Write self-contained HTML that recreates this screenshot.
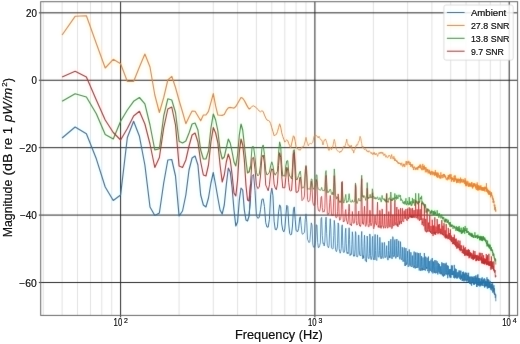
<!DOCTYPE html>
<html><head><meta charset="utf-8"><style>
html,body{margin:0;padding:0;background:#fff;width:520px;height:344px;overflow:hidden}
svg{display:block}
text{font-family:"Liberation Sans",sans-serif;fill:#111;stroke:#111;stroke-width:0.2px}
.txt{filter:grayscale(1)}
.tk{font-size:10.1px}
.sup{font-size:6.9px}
.lab{font-size:11.9px}
.sup2{font-size:8px}
.lg{font-size:9.8px}
</style></head><body>
<svg width="520" height="344" viewBox="0 0 520 344"><rect x="0" y="0" width="520" height="344" fill="#fff"/><defs><filter id="jp" color-interpolation-filters="sRGB" x="-30" y="-30" width="580" height="404" filterUnits="userSpaceOnUse"><feConvolveMatrix in="SourceGraphic" order="3" kernelMatrix="0.0064 0.0672 0.0064 0.0672 0.7056 0.0672 0.0064 0.0672 0.0064" divisor="1" edgeMode="duplicate" preserveAlpha="true" result="S"/><feColorMatrix in="S" type="matrix" values="0.299 0.587 0.114 0 0 0.299 0.587 0.114 0 0 0.299 0.587 0.114 0 0 0 0 0 1 0" result="Y"/><feGaussianBlur in="SourceGraphic" stdDeviation="2.0" result="B"/><feColorMatrix in="B" type="matrix" values="0.3505 -0.2935 -0.0570 0 0.5 -0.1495 0.2065 -0.0570 0 0.5 -0.1495 -0.2935 0.4430 0 0.5 0 0 0 1 0" result="C"/><feComposite in="Y" in2="C" operator="arithmetic" k1="0" k2="1" k3="2" k4="-1"/></filter></defs><g filter="url(#jp)"><rect x="-30" y="-30" width="580" height="404" fill="#fff"/><line x1="43.28" y1="1.7" x2="43.28" y2="315.4" stroke="#d6d6d6" stroke-width="0.7"/><line x1="62.11" y1="1.7" x2="62.11" y2="315.4" stroke="#d6d6d6" stroke-width="0.7"/><line x1="77.49" y1="1.7" x2="77.49" y2="315.4" stroke="#d6d6d6" stroke-width="0.7"/><line x1="90.50" y1="1.7" x2="90.50" y2="315.4" stroke="#d6d6d6" stroke-width="0.7"/><line x1="101.77" y1="1.7" x2="101.77" y2="315.4" stroke="#d6d6d6" stroke-width="0.7"/><line x1="111.71" y1="1.7" x2="111.71" y2="315.4" stroke="#d6d6d6" stroke-width="0.7"/><line x1="179.09" y1="1.7" x2="179.09" y2="315.4" stroke="#d6d6d6" stroke-width="0.7"/><line x1="213.30" y1="1.7" x2="213.30" y2="315.4" stroke="#d6d6d6" stroke-width="0.7"/><line x1="237.58" y1="1.7" x2="237.58" y2="315.4" stroke="#d6d6d6" stroke-width="0.7"/><line x1="256.41" y1="1.7" x2="256.41" y2="315.4" stroke="#d6d6d6" stroke-width="0.7"/><line x1="271.79" y1="1.7" x2="271.79" y2="315.4" stroke="#d6d6d6" stroke-width="0.7"/><line x1="284.80" y1="1.7" x2="284.80" y2="315.4" stroke="#d6d6d6" stroke-width="0.7"/><line x1="296.07" y1="1.7" x2="296.07" y2="315.4" stroke="#d6d6d6" stroke-width="0.7"/><line x1="306.01" y1="1.7" x2="306.01" y2="315.4" stroke="#d6d6d6" stroke-width="0.7"/><line x1="373.39" y1="1.7" x2="373.39" y2="315.4" stroke="#d6d6d6" stroke-width="0.7"/><line x1="407.60" y1="1.7" x2="407.60" y2="315.4" stroke="#d6d6d6" stroke-width="0.7"/><line x1="431.88" y1="1.7" x2="431.88" y2="315.4" stroke="#d6d6d6" stroke-width="0.7"/><line x1="450.71" y1="1.7" x2="450.71" y2="315.4" stroke="#d6d6d6" stroke-width="0.7"/><line x1="466.09" y1="1.7" x2="466.09" y2="315.4" stroke="#d6d6d6" stroke-width="0.7"/><line x1="479.10" y1="1.7" x2="479.10" y2="315.4" stroke="#d6d6d6" stroke-width="0.7"/><line x1="490.37" y1="1.7" x2="490.37" y2="315.4" stroke="#d6d6d6" stroke-width="0.7"/><line x1="500.31" y1="1.7" x2="500.31" y2="315.4" stroke="#d6d6d6" stroke-width="0.7"/><line x1="120.60" y1="1.7" x2="120.60" y2="317.4" stroke="#2a2a2a" stroke-width="1"/><line x1="314.90" y1="1.7" x2="314.90" y2="317.4" stroke="#2a2a2a" stroke-width="1"/><line x1="509.20" y1="1.7" x2="509.20" y2="317.4" stroke="#2a2a2a" stroke-width="1"/><line x1="38.900000000000006" y1="12.83" x2="517.6" y2="12.83" stroke="#2a2a2a" stroke-width="1"/><line x1="38.900000000000006" y1="80.25" x2="517.6" y2="80.25" stroke="#2a2a2a" stroke-width="1"/><line x1="38.900000000000006" y1="147.67" x2="517.6" y2="147.67" stroke="#2a2a2a" stroke-width="1"/><line x1="38.900000000000006" y1="215.09" x2="517.6" y2="215.09" stroke="#2a2a2a" stroke-width="1"/><line x1="38.900000000000006" y1="282.51" x2="517.6" y2="282.51" stroke="#2a2a2a" stroke-width="1"/><g clip-path="url(#clip)"><polyline fill="none" stroke="#1f77b4" stroke-width="1.15" stroke-linejoin="round" points="62.11,138.00 75.12,127.00 86.39,133.80 96.32,158.80 105.22,187.00 113.26,200.50 120.60,195.00 127.35,137.50 133.61,121.30 139.43,136.30 144.88,165.00 149.99,207.00 154.81,215.50 159.38,213.00 163.71,183.00 167.82,160.00 171.75,159.50 175.50,176.00 179.09,216.00 182.53,211.00 185.84,195.00 189.03,170.00 192.10,158.00 195.06,156.00 197.92,165.00 200.69,195.00 203.37,205.00 205.96,207.00 208.48,198.00 210.93,183.00 213.30,172.50 215.62,185.00 217.87,198.00 220.06,210.00 222.20,214.00 224.28,205.00 226.31,185.00 228.30,168.00 230.24,172.00 232.13,188.00 233.99,210.00 235.80,226.00 237.58,222.00 239.32,200.00 241.02,188.00 242.70,190.00 244.33,210.00 245.94,220.00 247.52,221.00 249.07,216.03 250.59,196.11"/><polyline fill="none" stroke="#1f77b4" stroke-width="1.0" stroke-linejoin="round" points="249.07,216.03 250.59,196.11 252.08,176.55 253.55,174.47 254.99,190.41 256.41,215.55 257.80,218.28 259.18,217.53 260.53,209.79 261.86,199.43 263.16,198.83 264.45,206.45 265.72,222.74 266.97,227.05 268.20,227.15 269.42,219.39 270.61,194.84 271.79,188.17 272.96,195.78 274.11,221.20 275.24,229.50 276.36,229.84 277.46,226.86 278.55,211.89 279.62,204.84 280.69,206.80 281.73,224.01 282.77,230.06 283.79,231.91 284.80,228.98 285.80,216.25 286.79,205.31 287.76,206.37 288.73,223.96 289.68,233.48 290.62,234.90 291.56,234.37 292.48,226.02 293.39,209.75 294.29,206.92 295.19,219.25 296.07,230.17 296.94,231.55 297.81,231.44 298.67,228.25 299.52,219.80 300.35,216.82"/><polyline fill="none" stroke="#1f77b4" stroke-width="0.8" stroke-linejoin="round" points="299.52,219.80 300.35,216.82 301.19,225.18 302.01,233.73 302.82,234.27 303.63,233.02 304.43,232.52 305.22,219.67 306.01,213.89 306.79,222.25 307.56,239.42 308.32,240.84 309.08,242.64 309.83,241.50 310.57,231.96 311.31,222.86 312.04,225.28 312.76,244.10 313.48,247.14 314.19,247.31 314.90,246.64 315.60,240.87 316.29,224.80 316.98,225.10 317.67,242.44 318.34,247.63 319.02,247.37 319.68,245.47 320.35,242.94 321.00,218.86 321.65,217.37 322.30,235.31 322.94,243.70 323.58,243.10 324.21,246.03 324.84,241.94 325.46,224.23 326.08,217.09 326.69,233.65 327.30,245.43 327.91,246.69 328.51,247.79 329.10,245.26 329.70,229.84 330.28,218.77 330.87,228.92 331.45,247.84 332.02,248.63 332.60,248.96 333.17,248.37 333.73,235.60 334.29,220.36 334.85,226.18 335.40,247.99 335.95,250.96 336.50,251.71 337.04,249.74 337.58,243.26 338.11,222.93 338.65,224.69 339.18,248.51 339.70,251.58 340.22,253.20 340.74,251.37 341.26,248.49 341.77,227.13 342.28,224.84 342.79,245.38 343.29,252.06 343.79,252.70 344.29,252.18 344.79,249.96 345.28,233.37 345.77,228.24 346.25,243.51 346.74,252.79 347.22,253.61 347.70,252.27 348.17,253.71 348.64,237.95 349.11,227.78 349.58,239.44 350.05,255.66 350.51,254.03 350.97,254.37 351.43,254.54 351.88,244.40 352.33,231.77 352.78,236.34 353.23,254.03 353.68,256.32 354.12,255.25 354.56,256.18 355.00,249.23 355.43,231.59 355.87,232.97 356.30,255.36 356.73,256.60 357.16,257.05 357.58,256.83 358.01,254.16 358.43,235.27 358.84,234.95 359.26,250.10 359.68,255.28 360.09,255.73 360.50,255.48 360.91,256.05 361.31,238.61 361.72,231.44 362.12,246.57 362.52,257.49 362.92,258.97 363.32,255.60 363.71,257.97 364.11,243.33 364.50,235.14 364.89,244.70 365.28,260.47 365.66,259.83 366.05,260.25 366.43,262.07 366.81,252.15 367.19,236.01 367.57,241.10 367.94,256.33 368.32,258.40 368.69,258.69 369.06,258.64 369.43,253.36 369.80,233.95 370.16,236.70 370.53,255.79 370.89,259.23 371.25,259.69 371.61,258.09 371.97,255.46 372.33,238.49 372.68,236.31 373.04,254.04 373.39,259.40 373.74,258.63 374.09,259.94 374.44,258.54 374.78,241.09 375.13,234.39 375.47,250.41 375.82,259.60 376.16,260.22 376.50,259.97 376.83,260.38 377.17,246.91 377.51,234.85 377.84,245.72 378.17,256.29 378.51,257.05 378.84,257.31 379.17,255.85 379.49,250.45 379.82,237.34 380.14,242.80 380.47,257.83 380.79,258.49 381.11,258.01 381.43,258.57 381.75,255.21 382.07,242.50 382.39,242.88 382.70,257.25 383.02,258.48 383.33,258.25 383.64,258.02 383.95,257.52 384.26,242.37 384.57,242.56 384.88,254.67 385.18,257.46 385.49,257.55 385.79,256.72 386.10,256.74 386.40,249.07 386.70,245.61 387.00,254.79 387.30,258.01 387.59,259.67 387.89,260.18 388.19,259.96 388.48,250.59 388.78,241.03 389.07,250.52 389.36,257.64 389.65,255.82 389.94,258.14 390.23,256.63 390.51,251.03 390.80,239.22 391.09,245.83 391.37,256.85 391.66,257.73 391.94,258.91 392.22,258.78 392.50,254.06 392.78,236.66 393.06,237.74 393.34,254.72 393.61,256.88 393.89,256.86 394.17,256.63 394.44,256.28 394.71,240.56 394.99,239.48 395.26,255.38 395.53,258.07 395.80,258.46 396.07,257.92 396.34,257.06 396.60,245.43 396.87,239.02 397.14,250.24 397.40,256.93 397.67,256.43 397.93,256.72 398.19,255.07 398.45,248.75 398.71,240.76 398.97,249.46 399.23,256.72 399.49,258.31 399.75,259.30 400.01,258.88 400.26,253.29 400.52,241.65 400.77,247.78 401.03,257.02 401.28,259.37 401.53,259.90 401.78,260.02 402.03,259.04 402.28,247.22 402.53,248.21 402.78,260.58 403.03,261.68 403.28,260.61 403.52,261.01 403.77,261.13 404.01,250.44 404.26,247.43 404.50,262.53 404.74,264.94 404.99,265.86 405.23,264.76 405.47,265.78 405.71,252.83 405.95,248.10 406.19,259.80 406.42,264.72 406.66,264.94 406.90,262.89 407.13,263.34 407.37,258.72 407.60,251.11 407.84,258.31 408.07,266.84 408.30,266.43 408.54,266.43 408.77,265.65 409.00,262.66 409.23,249.41 409.46,255.97 409.69,265.37 409.92,265.58 410.14,266.42 410.37,265.70 410.60,265.10 410.82,252.18 411.05,252.85 411.27,265.71 411.50,265.95 411.72,266.96 411.94,265.72 412.17,265.37 412.39,256.12 412.61,255.54 412.83,266.61 413.05,266.58 413.27,266.70 413.49,267.76 413.71,266.28 413.93,255.64 414.14,251.56 414.36,264.16 414.58,267.36 414.79,266.71 415.01,266.88 415.22,268.53 415.43,260.41 415.65,252.42 415.86,260.87 416.07,267.92 416.28,267.18 416.50,267.85 416.71,266.73 416.92,263.58 417.13,252.59 417.33,259.11 417.54,267.78 417.75,267.36 417.96,267.67 418.17,267.77 418.37,266.90 418.58,253.13 418.78,255.20 418.99,267.59 419.19,270.49 419.40,269.23 419.60,268.37 419.80,268.40 420.01,256.42 420.21,252.90 420.41,267.65 420.61,270.92 420.81,270.35 421.01,270.49 421.21,269.40 421.41,261.26 421.61,256.06 421.81,266.39 422.01,270.33 422.20,268.17 422.40,270.30 422.60,269.61 422.79,264.33 422.99,257.49 423.18,263.72 423.38,268.44 423.57,270.11 423.77,269.22 423.96,269.55 424.15,265.11 424.35,253.03 424.54,256.68 424.73,269.99 424.92,269.37 425.11,270.06 425.30,270.76 425.49,267.86 425.68,256.59 425.87,258.50 426.06,267.25 426.25,268.25 426.43,268.71 426.62,267.05 426.81,268.47 426.99,257.61 427.18,257.93 427.37,269.57 427.55,271.02 427.74,271.21 427.92,270.84 428.11,270.64 428.29,260.07 428.47,256.54 428.66,269.22 428.84,273.16 429.02,272.63 429.20,272.14 429.38,271.02 429.56,267.97 429.74,261.01 429.92,266.31 430.10,270.50 430.28,270.82 430.46,270.40 430.64,270.68 430.82,267.11 431.00,259.58 431.17,265.61 431.35,271.54 431.53,271.52 431.70,272.14 431.88,272.28 432.06,269.21 432.23,258.01 432.41,260.53 432.58,271.87 432.75,272.32 432.93,273.47 433.10,271.68 433.28,271.82 433.45,261.49 433.62,261.79 433.79,269.56 433.96,272.01 434.14,272.12 434.31,273.07 434.48,272.92 434.65,266.18 434.82,260.12 434.99,270.56 435.16,272.66 435.32,272.37 435.49,273.33 435.66,272.14 435.83,265.70 436.00,260.35 436.16,265.58 436.33,271.31 436.50,272.15 436.66,272.10 436.83,273.12 437.00,269.30 437.16,261.25 437.33,265.73 437.49,273.30 437.66,273.18 437.82,274.50 437.98,273.63 438.15,271.16 438.31,262.92 438.47,263.23 438.63,271.61 438.80,271.80 438.96,272.22 439.12,271.75 439.28,272.38 439.44,264.97 439.60,264.15 439.76,273.24 439.92,272.98 440.08,274.01 440.24,273.94 440.40,274.22 440.56,266.90 440.72,266.27 440.88,271.85 441.03,273.12 441.19,272.73 441.35,273.87 441.51,274.00 441.66,268.13 441.82,262.24 441.98,268.57 442.13,275.20 442.29,274.21 442.44,274.75 442.60,275.57 442.75,274.09 442.91,263.19 443.06,267.62 443.21,275.31 443.37,276.73 443.52,275.18 443.67,275.71 443.83,274.63 443.98,263.20 444.13,264.58 444.28,275.14 444.43,274.33 444.59,274.85 444.74,275.68 444.89,275.69 445.04,266.30 445.19,263.69 445.34,272.29 445.49,274.32 445.64,274.12 445.79,273.62 445.94,272.87 446.08,267.14 446.23,262.71 446.38,269.88 446.53,272.79 446.68,274.59 446.82,273.61 446.97,274.34 447.12,268.99 447.27,265.21 447.41,270.42 447.56,276.07 447.70,278.21 447.85,276.83 447.99,275.81 448.14,273.43 448.28,265.82 448.43,269.52 448.57,274.18 448.72,273.26 448.86,274.43 449.01,274.67 449.15,273.94 449.29,268.98 449.43,269.15 449.58,276.25 449.72,275.05 449.86,276.62 450.00,277.60 450.15,276.25 450.29,269.78 450.43,268.94 450.57,277.49 450.71,276.30 450.85,276.95 450.99,277.41 451.13,277.52 451.27,268.75 451.41,265.43 451.55,272.14 451.69,274.92 451.83,274.72 451.97,273.91 452.10,274.79 452.24,271.69 452.38,265.57 452.52,270.68 452.66,275.13 452.79,273.76 452.93,274.76 453.07,273.76 453.20,274.08 453.34,270.82 453.48,273.32 453.61,276.98 453.75,277.83 453.88,277.33 454.02,277.32 454.15,277.13 454.29,264.92 454.42,268.11 454.56,276.78 454.69,278.40 454.83,277.43 454.96,276.74 455.09,277.14 455.23,270.14 455.36,268.58 455.49,276.59 455.63,276.82 455.76,275.53 455.89,277.95 456.02,277.71 456.16,271.91 456.29,269.17 456.42,276.39 456.55,277.40 456.68,277.20 456.81,277.61 456.94,278.71 457.07,273.82 457.20,272.45 457.33,274.06 457.46,276.22 457.59,278.12 457.72,277.03 457.85,276.07 457.98,275.29 458.11,271.83 458.24,273.89 458.37,276.31 458.50,277.03 458.62,277.27 458.75,276.19 458.88,276.22 459.01,270.25 459.14,270.84 459.26,277.65 459.39,278.43 459.52,278.40 459.64,277.92 459.77,277.72 459.90,272.46 460.02,270.84 460.15,277.74 460.27,278.85 460.40,278.36 460.52,279.70 460.65,277.16 460.77,273.87 460.90,270.67 461.02,277.33 461.15,278.89 461.27,275.97 461.40,276.76 461.52,278.06 461.64,276.54 461.77,274.54 461.89,277.20 462.01,280.35 462.14,280.52 462.26,279.93 462.38,280.81 462.50,276.01 462.63,271.98 462.75,273.37 462.87,280.42 462.99,279.55 463.11,279.03 463.23,280.04 463.36,278.13 463.48,271.65 463.60,272.09 463.72,280.16 463.84,280.91 463.96,281.33 464.08,280.40 464.20,281.07 464.32,274.52 464.44,273.60 464.56,279.19 464.68,280.27 464.80,279.15 464.91,279.22 465.03,279.23 465.15,275.25 465.27,272.38 465.39,279.10 465.51,279.73 465.62,280.42 465.74,279.39 465.86,280.33 465.98,277.32 466.09,272.99 466.21,278.60 466.33,280.29 466.45,281.43 466.56,280.77 466.68,279.47 466.80,277.75 466.91,272.73 467.03,275.08 467.14,280.37 467.26,280.18 467.37,278.97 467.49,280.23 467.60,277.95 467.72,274.96 467.83,274.95 467.95,280.93 468.06,281.61 468.18,282.00 468.29,280.64 468.41,280.09 468.52,274.45 468.63,272.80 468.75,279.53 468.86,282.37 468.98,280.25 469.09,281.62 469.20,279.96 469.31,278.52 469.43,276.65 469.54,281.04 469.65,282.97 469.76,283.93 469.88,282.68 469.99,282.61 470.10,278.98 470.21,276.87 470.32,279.69 470.43,283.42 470.55,282.73 470.66,284.16 470.77,281.18 470.88,280.72 470.99,276.38 471.10,278.38 471.21,283.97 471.32,284.48 471.43,283.59 471.54,284.79 471.65,285.76 471.76,278.21 471.87,276.75 471.98,280.64 472.09,281.19 472.20,282.32 472.31,280.86 472.42,280.73 472.52,277.27 472.63,276.74 472.74,282.78 472.85,283.14 472.96,282.79 473.07,283.47 473.17,282.19 473.28,280.58 473.39,277.48 473.50,282.32 473.60,284.78 473.71,284.23 473.82,282.37 473.92,283.97 474.03,281.19 474.14,276.00 474.24,279.67 474.35,283.50 474.46,282.32 474.56,284.77 474.67,281.67 474.77,281.22 474.88,277.54 474.99,279.09 475.09,282.48 475.20,282.61 475.30,282.22 475.41,283.30 475.51,279.86 475.62,275.49 475.72,275.90 475.83,283.39 475.93,283.79 476.03,282.88 476.14,283.10 476.24,284.02 476.35,279.01 476.45,277.63 476.55,285.85 476.66,286.89 476.76,283.87 476.86,285.28 476.97,286.95 477.07,278.97 477.17,275.22 477.27,281.87 477.38,284.00 477.48,284.27 477.58,284.00 477.68,285.02 477.79,279.71 477.89,274.33 477.99,279.28 478.09,284.77 478.19,284.11 478.30,284.68 478.40,285.66 478.50,283.26 478.60,277.95 478.70,280.18 478.80,284.65 478.90,284.57 479.00,284.43 479.10,285.28 479.20,282.92 479.30,278.29 479.40,278.35 479.50,285.37 479.60,285.95 479.70,285.80 479.80,286.47 479.90,285.46 480.00,280.77 480.10,278.35 480.20,282.80 480.30,284.79 480.40,283.77 480.50,285.35 480.60,286.19 480.69,283.63 480.79,280.92 480.89,282.44 480.99,284.84 481.09,283.67 481.19,283.42 481.28,284.25 481.38,282.73 481.48,278.60 481.58,281.82 481.67,285.39 481.77,285.61 481.87,284.63 481.97,284.27 482.06,283.36 482.16,277.29 482.26,279.94 482.35,283.97 482.45,285.82 482.55,283.27 482.64,283.85 482.74,283.30 482.84,279.94 482.93,280.74 483.03,282.24 483.12,282.11 483.22,281.46 483.32,282.03 483.41,283.09 483.51,280.40 483.60,279.38 483.70,284.65 483.79,285.62 483.89,285.99 483.98,285.12 484.08,285.33 484.17,279.76 484.27,278.16 484.36,286.69 484.45,285.80 484.55,287.29 484.64,287.73 484.74,287.24 484.83,283.08 484.92,279.05 485.02,283.08 485.11,286.29 485.21,284.87 485.30,286.25 485.39,285.69 485.49,284.46 485.58,280.79 485.67,282.65 485.76,285.92 485.86,284.85 485.95,285.99 486.04,286.19 486.13,285.61 486.23,281.77 486.32,281.11 486.41,285.24 486.50,286.24 486.60,284.49 486.69,285.75 486.78,284.87 486.87,279.07 486.96,277.28 487.05,285.96 487.15,287.73 487.24,288.46 487.33,288.54 487.42,287.61 487.51,282.26 487.60,279.12 487.69,285.39 487.78,286.68 487.87,287.36 487.96,288.28 488.05,286.84 488.14,282.58 488.23,279.34 488.32,282.60 488.41,285.89 488.50,287.91 488.59,287.04 488.68,285.64 488.77,285.34 488.86,279.88 488.95,281.22 489.04,286.24 489.13,286.59 489.22,287.08 489.31,287.37 489.40,287.18 489.49,282.57 489.58,283.18 489.66,287.93 489.75,287.59 489.84,285.84 489.93,286.96 490.02,287.05 490.11,280.96 490.19,281.31 490.28,287.13 490.37,287.60 490.46,289.50 490.55,288.87 490.63,288.47 490.72,285.83 490.81,284.33 490.90,287.56 490.98,286.63 491.07,288.05 491.16,288.23 491.24,287.80 491.33,286.14 491.42,283.76 491.51,285.68 491.59,287.84 491.68,290.38 491.77,288.40 491.85,287.77 491.94,287.55 492.02,283.61 492.11,284.28 492.20,288.62 492.28,287.64 492.37,287.30 492.45,288.18 492.54,288.17 492.63,283.47 492.71,285.09 492.80,290.18 492.88,292.78 492.97,289.95 493.05,291.62 493.14,290.30 493.22,286.61 493.31,286.79 493.39,290.48 493.48,291.25 493.56,290.50 493.65,289.76 493.73,289.76 493.82,286.96 493.90,285.23 493.98,291.97 494.07,293.27 494.15,293.78 494.24,294.15 494.32,293.06 494.40,290.07 494.49,288.28 494.57,290.40 494.65,294.73 494.74,292.79 494.82,294.45 494.90,293.93 494.99,294.84 495.07,294.27 495.15,295.94 495.24,297.71 495.32,297.97 495.40,298.04 495.49,297.48 495.57,297.54 495.65,296.35 495.73,294.56 495.82,301.27"/><polyline fill="none" stroke="#ff7f0e" stroke-width="1.15" stroke-linejoin="round" points="62.11,35.00 75.12,16.30 86.39,15.80 96.32,43.50 105.22,68.00 113.26,59.30 120.60,63.80 127.35,81.50 133.61,81.50 139.43,67.00 144.88,54.00 149.99,67.00 154.81,95.00 159.38,112.50 163.71,97.50 167.82,80.00 171.75,76.30 175.50,87.50 179.09,100.50 182.53,112.00 185.84,123.71 189.03,116.94 192.10,111.00 195.06,111.27 197.92,116.04 200.69,120.81 203.37,115.00 205.96,115.00 208.48,111.43 210.93,102.42 213.30,93.61 215.62,105.98 217.87,115.02 220.06,115.20 222.20,115.37 224.28,114.53 226.31,110.41 228.30,107.78 230.24,107.35 232.13,107.74 233.99,108.13 235.80,106.55 237.58,103.45 239.32,100.44 241.02,97.51 242.70,98.31 244.33,100.51 245.94,103.63 247.52,106.63 249.07,109.00 250.59,107.87"/><polyline fill="none" stroke="#ff7f0e" stroke-width="1.0" stroke-linejoin="round" points="249.07,109.00 250.59,107.87 252.08,106.41 253.55,105.79 254.99,106.79 256.41,107.75 257.80,109.37 259.18,111.03 260.53,111.80 261.86,110.76 263.16,111.47 264.45,114.99 265.72,117.97 266.97,120.12 268.20,120.41 269.42,121.05 270.61,123.55 271.79,127.77 272.96,131.50 274.11,135.78 275.24,134.99 276.36,134.49 277.46,131.62 278.55,127.73 279.62,123.81 280.69,127.00 281.73,132.86 282.77,136.41 283.79,139.29 284.80,142.12 285.80,140.73 286.79,139.77 287.76,140.66 288.73,143.62 289.68,145.49 290.62,148.10 291.56,144.04 292.48,139.98 293.39,135.77 294.29,136.88 295.19,141.30 296.07,146.66 296.94,148.00 297.81,149.24 298.67,149.78 299.52,149.80 300.35,149.96"/><polyline fill="none" stroke="#ff7f0e" stroke-width="0.8" stroke-linejoin="round" points="299.52,149.80 300.35,149.96 301.19,148.59 302.01,146.57 302.82,147.12 303.63,146.60 304.43,144.02 305.22,141.00 306.01,137.37 306.79,141.27 307.56,143.28 308.32,145.98 309.08,144.35 309.83,143.45 310.57,143.39 311.31,143.89 312.04,143.39 312.76,142.24 313.48,139.09 314.19,135.73 314.90,135.92 315.60,135.01 316.29,135.51 316.98,135.87 317.67,137.29 318.34,138.03 319.02,136.21 319.68,137.66 320.35,139.34 321.00,140.17 321.65,139.92 322.30,141.80 322.94,145.03 323.58,142.55 324.21,140.03 324.84,140.31 325.46,138.92 326.08,140.49 326.69,142.50 327.30,144.45 327.91,147.49 328.51,150.05 329.10,150.64 329.70,148.49 330.28,146.93 330.87,148.59 331.45,149.81 332.02,148.55 332.60,147.11 333.17,144.85 333.73,141.42 334.29,139.36 334.85,141.33 335.40,144.81 335.95,147.45 336.50,149.53 337.04,150.08 337.58,151.08 338.11,150.86 338.65,151.47 339.18,151.96 339.70,152.65 340.22,150.99 340.74,151.92 341.26,151.84 341.77,150.36 342.28,150.30 342.79,148.93 343.29,146.71 343.79,146.13 344.29,146.27 344.79,147.14 345.28,145.40 345.77,143.31 346.25,141.81 346.74,139.08 347.22,142.73 347.70,143.66 348.17,145.44 348.64,144.71 349.11,145.89 349.58,147.24 350.05,145.55 350.51,147.17 350.97,146.77 351.43,145.27 351.88,148.68 352.33,150.39 352.78,150.24 353.23,150.21 353.68,153.10 354.12,150.92 354.56,150.21 355.00,149.42 355.43,147.29 355.87,145.79 356.30,145.99 356.73,144.49 357.16,144.87 357.58,145.12 358.01,143.40 358.43,141.65 358.84,141.66 359.26,140.76 359.68,138.13 360.09,136.35 360.50,137.40 360.91,138.74 361.31,141.91 361.72,143.47 362.12,147.14 362.52,147.54 362.92,146.11 363.32,147.64 363.71,148.55 364.11,148.84 364.50,149.76 364.89,149.28 365.28,148.81 365.66,148.77 366.05,149.53 366.43,150.94 366.81,150.18 367.19,151.87 367.57,151.47 367.94,151.27 368.32,152.23 368.69,151.04 369.06,150.58 369.43,151.38 369.80,151.73 370.16,152.56 370.53,152.21 370.89,152.53 371.25,153.79 371.61,152.60 371.97,152.58 372.33,153.56 372.68,154.58 373.04,154.65 373.39,152.84 373.74,153.91 374.09,152.23 374.44,152.54 374.78,154.46 375.13,153.52 375.47,154.86 375.82,154.20 376.16,153.79 376.50,153.31 376.83,154.66 377.17,155.15 377.51,156.36 377.84,156.08 378.17,153.80 378.51,153.64 378.84,152.98 379.17,152.35 379.49,152.89 379.82,153.94 380.14,153.39 380.47,152.15 380.79,152.87 381.11,153.21 381.43,151.92 381.75,152.32 382.07,153.66 382.39,153.63 382.70,152.27 383.02,152.80 383.33,154.88 383.64,155.00 383.95,155.60 384.26,154.49 384.57,154.85 384.88,153.76 385.18,155.21 385.49,156.43 385.79,157.26 386.10,156.34 386.40,155.54 386.70,156.52 387.00,157.08 387.30,157.79 387.59,157.88 387.89,157.47 388.19,156.88 388.48,155.59 388.78,156.28 389.07,156.06 389.36,155.57 389.65,155.10 389.94,156.19 390.23,156.25 390.51,157.23 390.80,158.92 391.09,157.67 391.37,156.51 391.66,154.46 391.94,156.33 392.22,156.56 392.50,157.85 392.78,158.04 393.06,159.31 393.34,159.06 393.61,157.34 393.89,156.28 394.17,157.27 394.44,158.31 394.71,160.96 394.99,158.43 395.26,159.21 395.53,161.03 395.80,160.33 396.07,159.88 396.34,160.35 396.60,162.02 396.87,160.72 397.14,161.01 397.40,160.92 397.67,163.05 397.93,163.30 398.19,162.25 398.45,163.60 398.71,162.60 398.97,163.77 399.23,163.63 399.49,162.82 399.75,163.74 400.01,163.99 400.26,162.96 400.52,164.29 400.77,165.18 401.03,165.27 401.28,163.26 401.53,163.13 401.78,162.77 402.03,165.50 402.28,165.87 402.53,165.60 402.78,166.85 403.03,166.63 403.28,163.75 403.52,165.54 403.77,165.13 404.01,163.95 404.26,163.97 404.50,167.10 404.74,166.86 404.99,166.50 405.23,163.96 405.47,163.74 405.71,163.87 405.95,161.55 406.19,162.02 406.42,161.19 406.66,165.05 406.90,165.13 407.13,164.10 407.37,162.75 407.60,161.70 407.84,161.47 408.07,162.98 408.30,162.37 408.54,163.29 408.77,160.82 409.00,161.44 409.23,164.93 409.46,164.35 409.69,164.94 409.92,163.48 410.14,162.02 410.37,165.08 410.60,163.83 410.82,167.02 411.05,164.59 411.27,164.01 411.50,165.98 411.72,165.56 411.94,165.58 412.17,165.73 412.39,167.67 412.61,164.30 412.83,165.66 413.05,166.91 413.27,168.65 413.49,170.03 413.71,167.27 413.93,167.12 414.14,167.82 414.36,166.50 414.58,167.26 414.79,167.84 415.01,167.95 415.22,170.06 415.43,167.79 415.65,168.92 415.86,168.88 416.07,168.97 416.28,167.56 416.50,169.47 416.71,168.92 416.92,168.54 417.13,167.37 417.33,168.41 417.54,167.43 417.75,170.06 417.96,166.68 418.17,167.28 418.37,168.22 418.58,166.11 418.78,167.71 418.99,165.92 419.19,167.97 419.40,165.60 419.60,165.30 419.80,165.95 420.01,164.54 420.21,164.34 420.41,168.46 420.61,166.17 420.81,164.79 421.01,166.94 421.21,166.51 421.41,167.23 421.61,169.69 421.81,168.36 422.01,170.24 422.20,168.99 422.40,166.72 422.60,166.94 422.79,163.90 422.99,167.33 423.18,170.13 423.38,166.07 423.57,167.38 423.77,167.64 423.96,167.97 424.15,169.74 424.35,165.46 424.54,167.33 424.73,168.94 424.92,167.00 425.11,169.39 425.30,172.31 425.49,171.47 425.68,170.31 425.87,167.00 426.06,169.48 426.25,169.29 426.43,168.76 426.62,168.89 426.81,172.35 426.99,169.35 427.18,169.12 427.37,171.40 427.55,170.32 427.74,168.90 427.92,170.43 428.11,173.50 428.29,173.14 428.47,171.09 428.66,171.07 428.84,170.34 429.02,169.69 429.20,173.28 429.38,173.19 429.56,170.21 429.74,171.77 429.92,173.65 430.10,172.46 430.28,171.65 430.46,175.08 430.64,173.59 430.82,171.96 431.00,174.14 431.17,172.70 431.35,171.47 431.53,170.92 431.70,172.77 431.88,173.06 432.06,175.11 432.23,175.08 432.41,172.46 432.58,173.29 432.75,171.26 432.93,172.44 433.10,173.92 433.28,174.11 433.45,173.94 433.62,174.21 433.79,171.94 433.96,174.05 434.14,175.34 434.31,172.85 434.48,175.62 434.65,175.76 434.82,174.77 434.99,171.94 435.16,173.28 435.32,169.96 435.49,174.96 435.66,175.07 435.83,173.24 436.00,175.80 436.16,175.21 436.33,172.33 436.50,176.71 436.66,174.07 436.83,175.68 437.00,176.44 437.16,173.22 437.33,177.92 437.49,175.72 437.66,175.00 437.82,172.28 437.98,173.95 438.15,173.74 438.31,174.59 438.47,174.94 438.63,173.58 438.80,177.59 438.96,175.20 439.12,176.38 439.28,175.37 439.44,175.14 439.60,177.64 439.76,178.37 439.92,176.60 440.08,177.00 440.24,178.15 440.40,178.48 440.56,176.94 440.72,174.26 440.88,172.31 441.03,178.44 441.19,177.51 441.35,176.76 441.51,177.14 441.66,176.45 441.82,174.91 441.98,175.48 442.13,175.84 442.29,175.16 442.44,174.94 442.60,176.84 442.75,178.17 442.91,177.43 443.06,177.66 443.21,173.96 443.37,175.28 443.52,174.81 443.67,174.03 443.83,173.98 443.98,177.26 444.13,175.38 444.28,175.66 444.43,174.00 444.59,176.52 444.74,176.70 444.89,174.98 445.04,175.96 445.19,176.00 445.34,178.09 445.49,176.68 445.64,175.92 445.79,177.32 445.94,179.01 446.08,179.19 446.23,179.66 446.38,178.96 446.53,178.59 446.68,178.57 446.82,178.55 446.97,177.99 447.12,177.61 447.27,180.34 447.41,177.41 447.56,177.90 447.70,178.03 447.85,178.58 447.99,178.74 448.14,175.60 448.28,174.95 448.43,179.08 448.57,175.32 448.72,177.21 448.86,178.57 449.01,179.74 449.15,179.55 449.29,178.03 449.43,176.13 449.58,174.88 449.72,176.05 449.86,177.13 450.00,174.10 450.15,177.00 450.29,177.11 450.43,178.53 450.57,177.92 450.71,178.62 450.85,176.62 450.99,175.91 451.13,174.32 451.27,178.30 451.41,181.68 451.55,179.50 451.69,179.02 451.83,177.14 451.97,180.14 452.10,177.64 452.24,179.91 452.38,179.33 452.52,177.97 452.66,180.08 452.79,178.39 452.93,178.19 453.07,179.23 453.20,181.03 453.34,182.03 453.48,181.51 453.61,178.26 453.75,178.62 453.88,177.83 454.02,175.85 454.15,177.00 454.29,177.87 454.42,178.86 454.56,181.73 454.69,178.10 454.83,179.08 454.96,175.17 455.09,176.12 455.23,177.20 455.36,176.38 455.49,177.66 455.63,180.14 455.76,179.59 455.89,179.07 456.02,177.90 456.16,181.30 456.29,179.30 456.42,180.02 456.55,183.13 456.68,180.42 456.81,179.24 456.94,182.80 457.07,181.20 457.20,179.95 457.33,179.27 457.46,178.93 457.59,181.78 457.72,180.14 457.85,178.64 457.98,179.84 458.11,183.04 458.24,180.68 458.37,180.02 458.50,181.00 458.62,181.18 458.75,178.64 458.88,180.50 459.01,180.66 459.14,180.13 459.26,180.79 459.39,178.99 459.52,179.58 459.64,181.02 459.77,179.20 459.90,182.99 460.02,183.40 460.15,181.21 460.27,182.30 460.40,181.12 460.52,177.55 460.65,180.23 460.77,181.23 460.90,182.46 461.02,181.94 461.15,182.39 461.27,180.44 461.40,179.44 461.52,181.62 461.64,181.41 461.77,178.85 461.89,178.87 462.01,179.66 462.14,180.87 462.26,182.01 462.38,181.60 462.50,182.43 462.63,182.41 462.75,182.62 462.87,182.33 462.99,181.99 463.11,179.04 463.23,181.03 463.36,182.38 463.48,182.05 463.60,180.46 463.72,180.55 463.84,181.78 463.96,180.21 464.08,182.38 464.20,182.34 464.32,183.06 464.44,183.86 464.56,184.00 464.68,181.36 464.80,181.88 464.91,179.71 465.03,178.15 465.15,179.09 465.27,184.31 465.39,179.76 465.51,183.51 465.62,185.14 465.74,182.34 465.86,185.43 465.98,186.24 466.09,185.04 466.21,186.07 466.33,183.36 466.45,182.50 466.56,185.42 466.68,183.61 466.80,181.00 466.91,180.68 467.03,185.61 467.14,182.42 467.26,184.35 467.37,183.65 467.49,183.50 467.60,183.43 467.72,183.46 467.83,181.59 467.95,181.23 468.06,182.30 468.18,184.34 468.29,186.68 468.41,184.92 468.52,186.51 468.63,185.32 468.75,184.99 468.86,183.62 468.98,185.35 469.09,182.61 469.20,184.81 469.31,186.45 469.43,184.31 469.54,186.21 469.65,185.41 469.76,183.68 469.88,183.01 469.99,183.45 470.10,186.32 470.21,186.48 470.32,183.76 470.43,186.18 470.55,185.98 470.66,184.63 470.77,184.28 470.88,186.58 470.99,186.42 471.10,185.98 471.21,183.27 471.32,183.97 471.43,182.21 471.54,186.55 471.65,184.73 471.76,185.98 471.87,184.01 471.98,182.27 472.09,182.69 472.20,183.08 472.31,187.85 472.42,185.44 472.52,185.57 472.63,188.58 472.74,185.52 472.85,186.25 472.96,185.01 473.07,186.48 473.17,185.77 473.28,184.22 473.39,183.77 473.50,185.78 473.60,187.27 473.71,183.31 473.82,185.52 473.92,185.57 474.03,186.69 474.14,183.76 474.24,186.12 474.35,183.56 474.46,184.83 474.56,185.64 474.67,184.41 474.77,185.31 474.88,183.31 474.99,184.39 475.09,184.48 475.20,185.07 475.30,185.54 475.41,185.28 475.51,188.49 475.62,186.02 475.72,184.47 475.83,186.80 475.93,187.12 476.03,187.30 476.14,186.43 476.24,186.32 476.35,189.97 476.45,188.61 476.55,188.20 476.66,187.01 476.76,186.36 476.86,187.14 476.97,184.06 477.07,185.75 477.17,182.36 477.27,187.40 477.38,188.35 477.48,190.46 477.58,188.08 477.68,185.31 477.79,189.21 477.89,188.15 477.99,185.24 478.09,186.15 478.19,189.04 478.30,188.88 478.40,187.70 478.50,185.47 478.60,190.44 478.70,186.53 478.80,188.53 478.90,186.76 479.00,189.55 479.10,187.42 479.20,188.37 479.30,187.90 479.40,188.40 479.50,189.57 479.60,185.67 479.70,188.65 479.80,189.60 479.90,187.99 480.00,187.71 480.10,187.96 480.20,190.22 480.30,189.31 480.40,188.54 480.50,187.31 480.60,186.37 480.69,188.14 480.79,187.70 480.89,185.22 480.99,185.93 481.09,187.96 481.19,188.20 481.28,188.82 481.38,189.95 481.48,189.15 481.58,188.29 481.67,189.47 481.77,187.12 481.87,190.25 481.97,187.26 482.06,190.89 482.16,188.52 482.26,188.64 482.35,187.92 482.45,187.12 482.55,190.14 482.64,189.78 482.74,189.46 482.84,189.12 482.93,190.77 483.03,190.54 483.12,189.47 483.22,187.20 483.32,188.54 483.41,188.74 483.51,190.84 483.60,189.00 483.70,187.75 483.79,189.83 483.89,189.39 483.98,189.42 484.08,189.25 484.17,187.19 484.27,190.50 484.36,189.92 484.45,188.74 484.55,187.68 484.64,189.84 484.74,191.50 484.83,188.47 484.92,186.71 485.02,188.98 485.11,187.83 485.21,186.78 485.30,188.70 485.39,188.47 485.49,188.79 485.58,187.92 485.67,188.47 485.76,188.18 485.86,188.68 485.95,189.85 486.04,191.35 486.13,191.57 486.23,191.91 486.32,190.40 486.41,183.20 486.50,186.90 486.60,190.03 486.69,190.79 486.78,187.39 486.87,190.96 486.96,190.16 487.05,190.16 487.15,191.76 487.24,191.26 487.33,189.16 487.42,189.68 487.51,189.61 487.60,188.79 487.69,190.20 487.78,191.68 487.87,190.34 487.96,193.42 488.05,189.82 488.14,193.08 488.23,192.29 488.32,190.32 488.41,192.65 488.50,194.25 488.59,191.98 488.68,190.81 488.77,192.45 488.86,194.77 488.95,190.47 489.04,193.12 489.13,192.12 489.22,191.57 489.31,191.62 489.40,191.97 489.49,193.17 489.58,192.47 489.66,191.00 489.75,194.77 489.84,190.96 489.93,194.32 490.02,194.59 490.11,194.79 490.19,192.51 490.28,194.41 490.37,193.93 490.46,195.18 490.55,194.81 490.63,197.32 490.72,193.11 490.81,194.97 490.90,193.76 490.98,193.68 491.07,193.31 491.16,195.13 491.24,192.54 491.33,192.38 491.42,195.47 491.51,192.41 491.59,195.49 491.68,193.41 491.77,194.87 491.85,195.31 491.94,196.20 492.02,195.30 492.11,195.57 492.20,196.92 492.28,198.27 492.37,197.67 492.45,198.21 492.54,198.11 492.63,198.52 492.71,196.32 492.80,199.01 492.88,199.80 492.97,198.46 493.05,200.89 493.14,202.53 493.22,201.08 493.31,202.65 493.39,201.59 493.48,198.72 493.56,201.45 493.65,202.14 493.73,202.76 493.82,200.60 493.90,201.99 493.98,201.69 494.07,203.50 494.15,205.17 494.24,206.22 494.32,205.32 494.40,205.20 494.49,206.49 494.57,206.96 494.65,207.28 494.74,209.92 494.82,204.50 494.90,206.26 494.99,206.68 495.07,208.48 495.15,207.11 495.24,210.49 495.32,210.84 495.40,208.26 495.49,207.18 495.57,210.29 495.65,209.09 495.73,211.80 495.82,209.83"/><polyline fill="none" stroke="#2ca02c" stroke-width="1.15" stroke-linejoin="round" points="62.11,101.30 75.12,93.80 86.39,97.00 96.32,113.80 105.22,134.50 113.26,139.00 120.60,121.20 127.35,110.00 133.61,101.30 139.43,97.50 144.88,103.80 149.99,125.00 154.81,150.00 159.38,148.80 163.71,116.00 167.82,98.80 171.75,100.00 175.50,112.50 179.09,141.30 182.53,143.00 185.84,141.00 189.03,133.00 192.10,124.00 195.06,123.00 197.92,130.00 200.69,150.00 203.37,159.00 205.96,159.00 208.48,151.00 210.93,128.00 213.30,114.00 215.62,120.00 217.87,131.00 220.06,150.00 222.20,159.00 224.28,157.00 226.31,148.00 228.30,139.00 230.24,143.00 232.13,152.00 233.99,162.00 235.80,166.00 237.58,155.00 239.32,135.00 241.02,124.00 242.70,130.00 244.33,145.00 245.94,160.00 247.52,173.00 249.07,172.00 250.59,165.94"/><polyline fill="none" stroke="#2ca02c" stroke-width="1.0" stroke-linejoin="round" points="249.07,172.00 250.59,165.94 252.08,146.75 253.55,146.60 254.99,157.42 256.41,172.38 257.80,175.91 259.18,174.41 260.53,165.16 261.86,148.70 263.16,144.95 264.45,154.33 265.72,170.87 266.97,175.01 268.20,174.10 269.42,172.13 270.61,165.81 271.79,161.82 272.96,165.75 274.11,172.94 275.24,175.20 276.36,172.98 277.46,171.49 278.55,153.16 279.62,141.87 280.69,146.17 281.73,164.82 282.77,176.38 283.79,175.40 284.80,176.16 285.80,166.03 286.79,160.87 287.76,160.68 288.73,171.82 289.68,176.27 290.62,176.74 291.56,179.04 292.48,167.20 293.39,150.35 294.29,149.66 295.19,164.09 296.07,179.00 296.94,180.05 297.81,177.85 298.67,175.52 299.52,172.54 300.35,171.34"/><polyline fill="none" stroke="#2ca02c" stroke-width="0.8" stroke-linejoin="round" points="299.52,172.54 300.35,171.34 301.19,178.47 302.01,188.46 302.82,187.22 303.63,187.85 304.43,185.17 305.22,170.05 306.01,165.38 306.79,171.22 307.56,189.70 308.32,189.07 309.08,188.42 309.83,189.54 310.57,185.26 311.31,178.97 312.04,179.18 312.76,187.47 313.48,189.24 314.19,187.56 314.90,187.27 315.60,184.83 316.29,174.98 316.98,174.85 317.67,186.71 318.34,188.87 319.02,189.82 319.68,189.65 320.35,190.45 321.00,189.44 321.65,187.36 322.30,190.09 322.94,190.94 323.58,190.55 324.21,191.06 324.84,188.16 325.46,173.00 326.08,170.55 326.69,180.87 327.30,189.98 327.91,193.02 328.51,191.45 329.10,191.78 329.70,189.70 330.28,189.10 330.87,190.75 331.45,193.93 332.02,194.69 332.60,192.29 333.17,194.86 333.73,182.30 334.29,168.90 334.85,176.29 335.40,195.64 335.95,196.12 336.50,199.17 337.04,196.73 337.58,197.73 338.11,197.69 338.65,200.69 339.18,200.80 339.70,202.45 340.22,200.87 340.74,202.55 341.26,197.91 341.77,182.18 342.28,182.75 342.79,195.89 343.29,201.15 343.79,203.09 344.29,201.40 344.79,200.01 345.28,197.33 345.77,194.37 346.25,200.08 346.74,202.83 347.22,201.27 347.70,201.22 348.17,201.81 348.64,197.40 349.11,193.67 349.58,198.14 350.05,200.38 350.51,201.97 350.97,202.00 351.43,202.11 351.88,202.05 352.33,199.84 352.78,201.83 353.23,202.24 353.68,201.89 354.12,201.25 354.56,201.40 355.00,198.11 355.43,182.94 355.87,185.25 356.30,200.88 356.73,203.11 357.16,203.59 357.58,201.92 358.01,200.71 358.43,199.29 358.84,198.27 359.26,200.62 359.68,200.14 360.09,201.21 360.50,200.89 360.91,199.65 361.31,181.35 361.72,175.28 362.12,187.93 362.52,196.27 362.92,197.02 363.32,195.67 363.71,197.68 364.11,195.59 364.50,196.26 364.89,196.66 365.28,198.36 365.66,200.45 366.05,198.34 366.43,197.43 366.81,191.91 367.19,182.60 367.57,188.51 367.94,197.55 368.32,198.79 368.69,197.05 369.06,198.26 369.43,197.83 369.80,196.33 370.16,194.30 370.53,197.84 370.89,197.87 371.25,196.68 371.61,197.58 371.97,196.63 372.33,188.80 372.68,190.82 373.04,196.43 373.39,197.07 373.74,196.27 374.09,198.80 374.44,197.70 374.78,198.15 375.13,198.43 375.47,197.51 375.82,199.18 376.16,198.23 376.50,198.39 376.83,198.35 377.17,196.99 377.51,196.81 377.84,197.67 378.17,199.53 378.51,199.46 378.84,200.01 379.17,198.90 379.49,198.48 379.82,197.47 380.14,197.74 380.47,200.12 380.79,199.76 381.11,202.11 381.43,201.50 381.75,199.78 382.07,195.41 382.39,197.66 382.70,198.65 383.02,198.54 383.33,198.90 383.64,198.90 383.95,199.89 384.26,198.61 384.57,200.70 384.88,199.48 385.18,201.23 385.49,199.71 385.79,202.24 386.10,200.12 386.40,194.86 386.70,193.58 387.00,200.34 387.30,201.38 387.59,202.08 387.89,201.14 388.19,202.50 388.48,200.68 388.78,198.17 389.07,197.87 389.36,198.14 389.65,197.81 389.94,198.96 390.23,199.84 390.51,194.72 390.80,192.01 391.09,194.15 391.37,200.79 391.66,199.66 391.94,200.38 392.22,199.58 392.50,200.70 392.78,197.90 393.06,197.76 393.34,199.54 393.61,199.08 393.89,197.90 394.17,199.84 394.44,199.16 394.71,193.40 394.99,193.74 395.26,198.49 395.53,197.24 395.80,197.52 396.07,199.62 396.34,199.46 396.60,195.96 396.87,194.89 397.14,197.36 397.40,198.32 397.67,197.35 397.93,198.80 398.19,197.61 398.45,195.62 398.71,195.37 398.97,194.71 399.23,195.99 399.49,196.63 399.75,196.79 400.01,195.76 400.26,196.10 400.52,195.32 400.77,200.73 401.03,200.30 401.28,198.73 401.53,199.73 401.78,200.37 402.03,199.98 402.28,200.07 402.53,200.34 402.78,202.58 403.03,203.22 403.28,202.14 403.52,203.52 403.77,203.32 404.01,203.68 404.26,201.14 404.50,202.07 404.74,203.78 404.99,204.48 405.23,203.25 405.47,203.53 405.71,199.71 405.95,198.27 406.19,202.58 406.42,203.61 406.66,205.12 406.90,203.93 407.13,203.96 407.37,201.92 407.60,200.93 407.84,203.83 408.07,203.10 408.30,204.49 408.54,205.20 408.77,204.22 409.00,203.14 409.23,197.14 409.46,201.19 409.69,204.74 409.92,204.02 410.14,202.23 410.37,202.87 410.60,204.25 410.82,201.69 411.05,201.04 411.27,206.06 411.50,204.59 411.72,204.97 411.94,205.14 412.17,205.25 412.39,197.94 412.61,199.30 412.83,203.45 413.05,201.75 413.27,201.56 413.49,203.10 413.71,202.17 413.93,199.22 414.14,201.38 414.36,203.22 414.58,203.48 414.79,205.81 415.01,204.03 415.22,203.21 415.43,199.61 415.65,193.27 415.86,197.65 416.07,202.07 416.28,201.23 416.50,201.33 416.71,203.23 416.92,202.24 417.13,201.43 417.33,201.86 417.54,203.17 417.75,204.07 417.96,202.74 418.17,204.43 418.37,200.83 418.58,193.54 418.78,193.36 418.99,200.95 419.19,202.05 419.40,202.88 419.60,200.98 419.80,201.46 420.01,198.63 420.21,197.82 420.41,197.87 420.61,199.06 420.81,197.45 421.01,199.11 421.21,199.00 421.41,196.87 421.61,195.82 421.81,199.84 422.01,204.26 422.20,201.37 422.40,203.98 422.60,203.12 422.79,202.25 422.99,202.74 423.18,204.72 423.38,205.34 423.57,202.95 423.77,203.52 423.96,204.73 424.15,204.09 424.35,205.59 424.54,204.27 424.73,206.81 424.92,205.22 425.11,208.23 425.30,205.68 425.49,204.35 425.68,206.23 425.87,208.46 426.06,212.60 426.25,210.68 426.43,210.97 426.62,211.52 426.81,212.28 426.99,208.09 427.18,208.67 427.37,210.11 427.55,209.64 427.74,209.98 427.92,209.93 428.11,209.08 428.29,211.00 428.47,208.84 428.66,211.43 428.84,211.34 429.02,210.40 429.20,209.79 429.38,210.28 429.56,210.62 429.74,210.51 429.92,211.86 430.10,213.94 430.28,212.56 430.46,213.27 430.64,211.64 430.82,213.21 431.00,211.11 431.17,211.10 431.35,213.51 431.53,213.10 431.70,209.94 431.88,212.52 432.06,210.88 432.23,210.99 432.41,212.81 432.58,213.52 432.75,214.22 432.93,213.93 433.10,214.47 433.28,214.64 433.45,213.31 433.62,210.98 433.79,214.85 433.96,212.81 434.14,213.90 434.31,214.69 434.48,214.27 434.65,211.15 434.82,210.55 434.99,212.31 435.16,213.21 435.32,214.28 435.49,212.09 435.66,213.67 435.83,213.75 436.00,213.65 436.16,214.31 436.33,215.88 436.50,214.95 436.66,215.28 436.83,215.02 437.00,215.47 437.16,210.25 437.33,214.50 437.49,215.88 437.66,215.90 437.82,215.28 437.98,214.48 438.15,215.58 438.31,213.55 438.47,214.89 438.63,215.07 438.80,217.78 438.96,216.74 439.12,216.27 439.28,215.76 439.44,213.81 439.60,213.24 439.76,215.55 439.92,216.29 440.08,216.12 440.24,215.01 440.40,216.04 440.56,214.98 440.72,215.69 440.88,218.39 441.03,217.68 441.19,216.84 441.35,215.65 441.51,215.84 441.66,214.55 441.82,215.45 441.98,215.82 442.13,217.97 442.29,217.36 442.44,218.01 442.60,219.18 442.75,217.16 442.91,217.04 443.06,216.99 443.21,219.24 443.37,217.54 443.52,217.45 443.67,217.22 443.83,217.12 443.98,218.26 444.13,220.69 444.28,220.41 444.43,222.30 444.59,221.67 444.74,220.45 444.89,221.10 445.04,219.25 445.19,218.55 445.34,222.31 445.49,219.05 445.64,221.11 445.79,221.06 445.94,220.22 446.08,219.40 446.23,219.31 446.38,220.30 446.53,221.09 446.68,221.34 446.82,218.89 446.97,222.05 447.12,222.77 447.27,221.97 447.41,222.58 447.56,220.88 447.70,222.04 447.85,221.42 447.99,221.62 448.14,222.61 448.28,219.81 448.43,221.59 448.57,222.32 448.72,223.93 448.86,224.15 449.01,223.44 449.15,223.32 449.29,224.91 449.43,222.35 449.58,223.90 449.72,224.19 449.86,226.00 450.00,226.81 450.15,225.12 450.29,222.09 450.43,222.08 450.57,225.82 450.71,224.36 450.85,226.49 450.99,226.46 451.13,225.24 451.27,225.50 451.41,225.47 451.55,226.82 451.69,224.69 451.83,226.70 451.97,225.30 452.10,224.95 452.24,225.46 452.38,224.84 452.52,225.27 452.66,225.65 452.79,226.25 452.93,228.40 453.07,228.86 453.20,227.50 453.34,227.45 453.48,225.98 453.61,226.50 453.75,226.83 453.88,225.60 454.02,225.68 454.15,226.66 454.29,226.28 454.42,226.02 454.56,227.90 454.69,227.34 454.83,228.49 454.96,227.57 455.09,227.31 455.23,227.69 455.36,227.55 455.49,228.86 455.63,229.34 455.76,230.38 455.89,230.28 456.02,230.83 456.16,226.02 456.29,226.12 456.42,228.02 456.55,229.20 456.68,228.64 456.81,228.58 456.94,229.75 457.07,228.77 457.20,227.04 457.33,230.41 457.46,231.03 457.59,229.62 457.72,230.89 457.85,229.48 457.98,230.37 458.11,226.86 458.24,227.71 458.37,230.84 458.50,230.53 458.62,231.39 458.75,231.38 458.88,230.99 459.01,228.53 459.14,225.97 459.26,231.13 459.39,229.43 459.52,231.35 459.64,232.15 459.77,231.25 459.90,227.95 460.02,227.77 460.15,230.51 460.27,230.50 460.40,230.47 460.52,230.16 460.65,232.05 460.77,230.28 460.90,230.83 461.02,232.08 461.15,233.17 461.27,232.95 461.40,233.52 461.52,233.84 461.64,231.13 461.77,227.66 461.89,229.52 462.01,233.33 462.14,231.60 462.26,231.59 462.38,233.17 462.50,232.34 462.63,230.44 462.75,229.90 462.87,233.00 462.99,231.25 463.11,231.38 463.23,230.74 463.36,229.31 463.48,227.08 463.60,229.07 463.72,231.89 463.84,231.46 463.96,230.62 464.08,230.37 464.20,231.28 464.32,228.28 464.44,230.11 464.56,232.09 464.68,233.84 464.80,232.08 464.91,230.76 465.03,230.47 465.15,225.97 465.27,227.44 465.39,229.43 465.51,231.01 465.62,230.69 465.74,230.67 465.86,230.33 465.98,230.50 466.09,230.93 466.21,229.66 466.33,231.02 466.45,230.18 466.56,232.89 466.68,232.60 466.80,231.50 466.91,227.95 467.03,230.23 467.14,231.94 467.26,232.26 467.37,232.01 467.49,232.65 467.60,231.76 467.72,232.37 467.83,231.80 467.95,231.38 468.06,231.54 468.18,231.25 468.29,232.37 468.41,231.40 468.52,231.91 468.63,232.02 468.75,232.51 468.86,234.86 468.98,233.10 469.09,234.66 469.20,234.42 469.31,232.43 469.43,233.02 469.54,234.16 469.65,234.14 469.76,233.82 469.88,235.55 469.99,234.66 470.10,234.46 470.21,232.80 470.32,234.81 470.43,234.96 470.55,235.62 470.66,236.17 470.77,235.68 470.88,235.03 470.99,233.86 471.10,234.97 471.21,235.13 471.32,234.59 471.43,234.13 471.54,235.31 471.65,236.86 471.76,232.89 471.87,233.85 471.98,236.28 472.09,233.74 472.20,236.17 472.31,235.42 472.42,237.26 472.52,234.98 472.63,234.42 472.74,236.12 472.85,236.63 472.96,235.98 473.07,236.43 473.17,235.24 473.28,235.04 473.39,235.33 473.50,237.99 473.60,237.40 473.71,237.01 473.82,237.83 473.92,237.68 474.03,237.75 474.14,236.61 474.24,235.68 474.35,236.14 474.46,236.07 474.56,236.18 474.67,236.09 474.77,234.76 474.88,232.28 474.99,234.68 475.09,235.67 475.20,237.59 475.30,237.53 475.41,236.02 475.51,237.98 475.62,236.89 475.72,236.14 475.83,237.67 475.93,237.86 476.03,235.09 476.14,237.10 476.24,236.54 476.35,235.97 476.45,236.41 476.55,236.31 476.66,236.62 476.76,236.40 476.86,236.47 476.97,237.05 477.07,235.25 477.17,235.33 477.27,238.50 477.38,238.50 477.48,238.91 477.58,236.86 477.68,237.85 477.79,236.28 477.89,234.66 477.99,235.50 478.09,238.02 478.19,237.13 478.30,237.20 478.40,237.19 478.50,237.67 478.60,236.17 478.70,237.94 478.80,237.99 478.90,237.73 479.00,237.63 479.10,238.06 479.20,238.22 479.30,236.09 479.40,236.09 479.50,239.78 479.60,239.26 479.70,240.28 479.80,239.13 479.90,237.21 480.00,238.75 480.10,237.39 480.20,237.05 480.30,238.03 480.40,237.41 480.50,240.10 480.60,238.64 480.69,235.89 480.79,237.35 480.89,237.75 480.99,240.26 481.09,237.59 481.19,236.51 481.28,238.59 481.38,237.78 481.48,237.19 481.58,236.54 481.67,239.60 481.77,240.72 481.87,237.50 481.97,240.27 482.06,237.92 482.16,238.28 482.26,237.87 482.35,239.94 482.45,241.14 482.55,240.62 482.64,239.61 482.74,240.51 482.84,237.42 482.93,236.11 483.03,239.55 483.12,237.40 483.22,237.17 483.32,238.02 483.41,236.31 483.51,236.50 483.60,237.68 483.70,238.51 483.79,239.16 483.89,240.11 483.98,238.67 484.08,239.53 484.17,239.33 484.27,237.66 484.36,239.31 484.45,238.41 484.55,240.22 484.64,239.67 484.74,239.27 484.83,237.63 484.92,238.43 485.02,238.69 485.11,240.89 485.21,240.16 485.30,239.53 485.39,241.10 485.49,240.91 485.58,239.73 485.67,242.19 485.76,241.23 485.86,241.23 485.95,241.62 486.04,240.83 486.13,240.94 486.23,239.89 486.32,241.74 486.41,243.82 486.50,242.34 486.60,244.02 486.69,242.53 486.78,242.91 486.87,243.36 486.96,243.04 487.05,246.51 487.15,244.77 487.24,243.47 487.33,245.72 487.42,244.16 487.51,243.42 487.60,240.59 487.69,245.16 487.78,245.34 487.87,245.32 487.96,245.48 488.05,246.12 488.14,244.56 488.23,245.64 488.32,244.91 488.41,245.90 488.50,247.17 488.59,246.57 488.68,245.02 488.77,245.94 488.86,243.70 488.95,244.23 489.04,247.55 489.13,246.83 489.22,245.78 489.31,246.19 489.40,248.68 489.49,244.96 489.58,246.59 489.66,247.52 489.75,247.57 489.84,245.89 489.93,246.71 490.02,247.05 490.11,246.14 490.19,244.71 490.28,247.01 490.37,249.33 490.46,249.42 490.55,248.76 490.63,247.88 490.72,248.42 490.81,247.99 490.90,250.50 490.98,249.26 491.07,250.49 491.16,250.24 491.24,249.38 491.33,249.08 491.42,247.10 491.51,248.52 491.59,250.74 491.68,249.11 491.77,250.34 491.85,250.77 491.94,250.60 492.02,251.20 492.11,249.50 492.20,249.92 492.28,251.50 492.37,251.70 492.45,253.20 492.54,251.84 492.63,250.50 492.71,252.45 492.80,252.60 492.88,252.10 492.97,255.78 493.05,253.73 493.14,254.08 493.22,253.94 493.31,255.60 493.39,254.61 493.48,255.50 493.56,253.48 493.65,253.15 493.73,255.68 493.82,255.36 493.90,254.33 493.98,256.43 494.07,257.18 494.15,256.41 494.24,258.41 494.32,257.62 494.40,257.49 494.49,257.47 494.57,259.18 494.65,259.61 494.74,259.83 494.82,258.10 494.90,259.62 494.99,261.06 495.07,258.42 495.15,259.30 495.24,261.26 495.32,261.33 495.40,261.04 495.49,259.02 495.57,260.92 495.65,259.41 495.73,262.23 495.82,264.62"/><polyline fill="none" stroke="#d62728" stroke-width="1.15" stroke-linejoin="round" points="62.11,77.00 75.12,71.30 86.39,77.00 96.32,100.00 105.22,120.00 113.26,132.50 120.60,140.00 127.35,128.50 133.61,116.00 139.43,111.30 144.88,124.00 149.99,144.00 154.81,167.50 159.38,157.50 163.71,128.00 167.82,109.00 171.75,107.00 175.50,125.00 179.09,166.00 182.53,167.50 185.84,160.00 189.03,146.00 192.10,135.00 195.06,133.00 197.92,142.00 200.69,162.00 203.37,175.00 205.96,176.00 208.48,165.00 210.93,142.00 213.30,127.50 215.62,133.00 217.87,143.00 220.06,165.00 222.20,182.00 224.28,175.00 226.31,162.00 228.30,154.00 230.24,160.00 232.13,175.00 233.99,193.00 235.80,196.00 237.58,180.00 239.32,152.00 241.02,139.00 242.70,145.00 244.33,160.00 245.94,185.00 247.52,200.00 249.07,201.00 250.59,183.47"/><polyline fill="none" stroke="#d62728" stroke-width="1.0" stroke-linejoin="round" points="249.07,201.00 250.59,183.47 252.08,158.49 253.55,157.35 254.99,169.26 256.41,185.27 257.80,188.62 259.18,187.31 260.53,176.00 261.86,157.39 263.16,154.94 264.45,163.11 265.72,185.02 266.97,187.85 268.20,190.76 269.42,184.82 270.61,172.96 271.79,168.75 272.96,170.06 274.11,184.14 275.24,188.09 276.36,189.69 277.46,183.07 278.55,165.50 279.62,152.74 280.69,157.31 281.73,176.24 282.77,187.89 283.79,187.69 284.80,187.84 285.80,177.70 286.79,167.28 287.76,169.99 288.73,182.73 289.68,190.29 290.62,190.91 291.56,190.62 292.48,177.54 293.39,153.79 294.29,152.34 295.19,175.30 296.07,192.27 296.94,192.49 297.81,191.99 298.67,189.79 299.52,179.50 300.35,177.05"/><polyline fill="none" stroke="#d62728" stroke-width="0.8" stroke-linejoin="round" points="299.52,179.50 300.35,177.05 301.19,185.94 302.01,200.62 302.82,199.61 303.63,198.85 304.43,195.96 305.22,174.84 306.01,166.35 306.79,177.15 307.56,199.51 308.32,201.74 309.08,201.43 309.83,200.34 310.57,192.20 311.31,181.20 312.04,187.55 312.76,202.12 313.48,204.87 314.19,205.79 314.90,204.72 315.60,196.07 316.29,179.46 316.98,182.48 317.67,205.54 318.34,210.22 319.02,211.22 319.68,211.20 320.35,208.30 321.00,197.48 321.65,196.36 322.30,207.43 322.94,212.23 323.58,211.49 324.21,211.83 324.84,208.58 325.46,182.19 326.08,175.43 326.69,197.09 327.30,213.51 327.91,214.84 328.51,213.46 329.10,213.70 329.70,202.67 330.28,195.45 330.87,201.77 331.45,214.91 332.02,215.71 332.60,214.71 333.17,215.74 333.73,198.79 334.29,175.65 334.85,186.64 335.40,214.88 335.95,217.67 336.50,217.64 337.04,217.19 337.58,211.48 338.11,193.85 338.65,197.20 339.18,216.59 339.70,220.31 340.22,219.64 340.74,218.55 341.26,214.11 341.77,182.53 342.28,181.40 342.79,209.61 343.29,222.00 343.79,221.21 344.29,221.30 344.79,220.09 345.28,211.68 345.77,209.54 346.25,217.10 346.74,221.04 347.22,222.19 347.70,224.10 348.17,221.35 348.64,211.21 349.11,204.16 349.58,211.16 350.05,224.98 350.51,224.32 350.97,224.53 351.43,225.87 351.88,221.51 352.33,211.49 352.78,215.65 353.23,222.98 353.68,223.33 354.12,223.40 354.56,222.92 355.00,214.67 355.43,184.78 355.87,187.61 356.30,220.46 356.73,225.06 357.16,224.67 357.58,224.55 358.01,224.25 358.43,212.54 358.84,211.07 359.26,221.93 359.68,226.08 360.09,225.46 360.50,226.50 360.91,224.50 361.31,188.12 361.72,178.70 362.12,206.23 362.52,223.39 362.92,222.53 363.32,224.53 363.71,222.55 364.11,212.85 364.50,206.17 364.89,214.81 365.28,226.04 365.66,226.43 366.05,225.57 366.43,224.21 366.81,210.77 367.19,188.26 367.57,198.08 367.94,223.50 368.32,226.65 368.69,227.13 369.06,226.41 369.43,223.53 369.80,210.18 370.16,210.78 370.53,222.71 370.89,225.72 371.25,225.61 371.61,224.27 371.97,222.45 372.33,193.79 372.68,192.77 373.04,220.71 373.39,227.66 373.74,228.79 374.09,227.38 374.44,226.80 374.78,217.04 375.13,215.22 375.47,220.63 375.82,223.84 376.16,223.56 376.50,225.22 376.83,223.35 377.17,210.63 377.51,202.12 377.84,214.05 378.17,227.24 378.51,225.58 378.84,226.61 379.17,227.67 379.49,220.74 379.82,210.33 380.14,212.54 380.47,227.33 380.79,226.68 381.11,228.44 381.43,227.17 381.75,224.77 382.07,208.90 382.39,209.81 382.70,224.81 383.02,226.72 383.33,226.34 383.64,228.34 383.95,227.49 384.26,216.32 384.57,214.00 384.88,224.59 385.18,226.27 385.49,228.20 385.79,227.18 386.10,226.57 386.40,203.70 386.70,193.56 387.00,216.45 387.30,226.84 387.59,228.21 387.89,227.97 388.19,227.06 388.48,218.28 388.78,211.52 389.07,217.56 389.36,226.47 389.65,227.19 389.94,226.76 390.23,226.98 390.51,218.30 390.80,198.96 391.09,204.71 391.37,227.92 391.66,228.61 391.94,228.49 392.22,228.40 392.50,225.88 392.78,214.88 393.06,214.63 393.34,225.02 393.61,225.91 393.89,226.00 394.17,225.75 394.44,225.18 394.71,202.31 394.99,199.84 395.26,221.44 395.53,224.59 395.80,224.75 396.07,224.55 396.34,225.37 396.60,212.56 396.87,207.01 397.14,220.49 397.40,225.91 397.67,223.86 397.93,226.96 398.19,225.42 398.45,217.09 398.71,209.47 398.97,215.81 399.23,222.00 399.49,224.57 399.75,221.62 400.01,222.50 400.26,219.51 400.52,208.12 400.77,212.94 401.03,222.04 401.28,224.03 401.53,221.06 401.78,221.82 402.03,220.60 402.28,208.21 402.53,208.40 402.78,220.74 403.03,221.09 403.28,221.39 403.52,222.01 403.77,221.41 404.01,211.92 404.26,210.56 404.50,216.47 404.74,218.40 404.99,218.72 405.23,218.16 405.47,218.49 405.71,210.41 405.95,209.01 406.19,218.46 406.42,219.32 406.66,220.03 406.90,219.46 407.13,220.79 407.37,214.97 407.60,208.50 407.84,213.76 408.07,218.62 408.30,217.63 408.54,219.13 408.77,217.88 409.00,216.12 409.23,207.35 409.46,211.28 409.69,216.46 409.92,217.48 410.14,215.73 410.37,217.11 410.60,215.36 410.82,208.33 411.05,209.29 411.27,217.74 411.50,215.45 411.72,217.56 411.94,215.92 412.17,218.02 412.39,208.09 412.61,207.98 412.83,214.10 413.05,217.99 413.27,215.35 413.49,216.62 413.71,215.97 413.93,210.75 414.14,210.03 414.36,215.90 414.58,216.83 414.79,217.85 415.01,216.68 415.22,216.98 415.43,208.82 415.65,199.98 415.86,211.41 416.07,218.27 416.28,218.15 416.50,217.42 416.71,217.29 416.92,217.34 417.13,209.32 417.33,211.94 417.54,217.57 417.75,217.34 417.96,219.49 418.17,215.60 418.37,216.02 418.58,201.33 418.78,201.89 418.99,218.10 419.19,219.83 419.40,220.91 419.60,218.61 419.80,217.55 420.01,210.07 420.21,209.22 420.41,217.17 420.61,216.78 420.81,220.08 421.01,218.59 421.21,219.63 421.41,208.31 421.61,202.91 421.81,217.98 422.01,224.90 422.20,224.87 422.40,221.66 422.60,222.73 422.79,222.95 422.99,218.31 423.18,221.54 423.38,226.15 423.57,226.07 423.77,226.08 423.96,225.73 424.15,220.70 424.35,205.46 424.54,214.22 424.73,229.26 424.92,229.97 425.11,230.10 425.30,231.41 425.49,229.23 425.68,218.89 425.87,220.83 426.06,230.65 426.25,231.74 426.43,231.21 426.62,232.37 426.81,231.11 426.99,211.99 427.18,209.27 427.37,229.36 427.55,231.59 427.74,231.04 427.92,229.80 428.11,229.38 428.29,225.24 428.47,222.56 428.66,229.35 428.84,229.78 429.02,231.87 429.20,230.46 429.38,231.26 429.56,224.33 429.74,214.76 429.92,224.36 430.10,230.76 430.28,231.83 430.46,231.03 430.64,233.04 430.82,230.79 431.00,225.98 431.17,228.15 431.35,232.61 431.53,233.57 431.70,232.91 431.88,233.81 432.06,232.04 432.23,219.73 432.41,222.26 432.58,234.01 432.75,234.25 432.93,235.33 433.10,236.06 433.28,233.91 433.45,228.00 433.62,225.47 433.79,233.13 433.96,233.63 434.14,232.08 434.31,234.28 434.48,234.40 434.65,222.36 434.82,217.27 434.99,228.33 435.16,233.86 435.32,231.81 435.49,232.89 435.66,234.92 435.83,230.00 436.00,226.48 436.16,229.61 436.33,231.72 436.50,232.76 436.66,233.15 436.83,231.86 437.00,229.29 437.16,219.02 437.33,223.92 437.49,231.68 437.66,232.37 437.82,231.80 437.98,234.21 438.15,232.74 438.31,224.96 438.47,224.50 438.63,231.50 438.80,232.97 438.96,232.99 439.12,232.13 439.28,232.66 439.44,225.37 439.60,224.01 439.76,231.92 439.92,232.18 440.08,233.84 440.24,234.23 440.40,233.80 440.56,230.42 440.72,228.58 440.88,233.51 441.03,234.07 441.19,234.23 441.35,233.25 441.51,233.54 441.66,228.31 441.82,220.03 441.98,226.66 442.13,233.14 442.29,234.54 442.44,233.63 442.60,234.77 442.75,231.46 442.91,225.80 443.06,227.55 443.21,233.73 443.37,235.62 443.52,234.62 443.67,234.99 443.83,233.64 443.98,223.22 444.13,224.68 444.28,236.28 444.43,237.32 444.59,237.13 444.74,237.16 444.89,236.60 445.04,230.54 445.19,230.29 445.34,235.03 445.49,237.50 445.64,234.70 445.79,236.40 445.94,238.63 446.08,228.52 446.23,223.99 446.38,233.84 446.53,238.04 446.68,236.74 446.82,237.44 446.97,236.97 447.12,234.51 447.27,235.21 447.41,235.97 447.56,238.33 447.70,238.38 447.85,239.16 447.99,239.19 448.14,236.70 448.28,227.90 448.43,230.05 448.57,238.97 448.72,238.32 448.86,238.34 449.01,237.26 449.15,237.49 449.29,233.00 449.43,234.36 449.58,238.15 449.72,239.75 449.86,239.81 450.00,238.69 450.15,238.70 450.29,229.37 450.43,229.78 450.57,236.91 450.71,240.26 450.85,239.07 450.99,240.18 451.13,241.28 451.27,236.54 451.41,235.53 451.55,238.33 451.69,242.10 451.83,241.18 451.97,241.37 452.10,239.16 452.24,237.49 452.38,237.17 452.52,240.08 452.66,243.36 452.79,243.91 452.93,242.48 453.07,244.30 453.20,241.87 453.34,237.16 453.48,238.16 453.61,243.32 453.75,242.29 453.88,243.78 454.02,243.94 454.15,242.70 454.29,234.64 454.42,235.97 454.56,241.53 454.69,245.12 454.83,244.13 454.96,244.46 455.09,243.92 455.23,238.76 455.36,239.00 455.49,245.05 455.63,246.40 455.76,244.57 455.89,244.31 456.02,246.35 456.16,238.68 456.29,238.58 456.42,244.56 456.55,246.39 456.68,248.08 456.81,248.71 456.94,245.89 457.07,246.22 457.20,241.68 457.33,246.28 457.46,247.08 457.59,246.01 457.72,247.88 457.85,248.26 457.98,247.10 458.11,240.28 458.24,242.54 458.37,248.05 458.50,247.89 458.62,248.10 458.75,247.61 458.88,247.83 459.01,243.67 459.14,246.32 459.26,247.76 459.39,250.17 459.52,248.55 459.64,247.43 459.77,248.09 459.90,240.70 460.02,240.59 460.15,247.25 460.27,251.28 460.40,250.52 460.52,248.93 460.65,249.88 460.77,247.37 460.90,245.25 461.02,248.80 461.15,248.94 461.27,249.14 461.40,249.80 461.52,250.53 461.64,247.51 461.77,245.47 461.89,250.40 462.01,250.91 462.14,252.72 462.26,251.97 462.38,252.54 462.50,252.56 462.63,249.38 462.75,250.65 462.87,251.51 462.99,251.75 463.11,252.96 463.23,253.76 463.36,252.68 463.48,246.50 463.60,245.64 463.72,252.49 463.84,253.54 463.96,252.66 464.08,252.58 464.20,251.56 464.32,250.55 464.44,248.42 464.56,254.66 464.68,253.57 464.80,255.84 464.91,253.93 465.03,255.54 465.15,248.51 465.27,247.12 465.39,253.55 465.51,253.47 465.62,254.26 465.74,253.77 465.86,252.11 465.98,252.40 466.09,249.99 466.21,251.46 466.33,255.31 466.45,254.09 466.56,253.90 466.68,254.81 466.80,252.70 466.91,251.04 467.03,249.56 467.14,255.60 467.26,255.88 467.37,253.21 467.49,253.43 467.60,254.97 467.72,250.11 467.83,251.44 467.95,256.10 468.06,254.93 468.18,254.31 468.29,252.81 468.41,255.21 468.52,249.13 468.63,249.64 468.75,256.06 468.86,255.48 468.98,258.28 469.09,257.70 469.20,257.43 469.31,251.43 469.43,250.05 469.54,255.10 469.65,256.99 469.76,256.36 469.88,257.76 469.99,257.57 470.10,255.47 470.21,251.98 470.32,255.53 470.43,256.13 470.55,253.50 470.66,255.39 470.77,255.91 470.88,256.09 470.99,252.78 471.10,254.50 471.21,257.47 471.32,258.71 471.43,257.71 471.54,257.57 471.65,256.83 471.76,253.45 471.87,253.03 471.98,256.23 472.09,258.50 472.20,257.31 472.31,258.26 472.42,258.10 472.52,255.12 472.63,254.50 472.74,257.44 472.85,258.41 472.96,257.40 473.07,260.07 473.17,258.88 473.28,254.65 473.39,250.56 473.50,254.64 473.60,259.79 473.71,258.50 473.82,258.54 473.92,258.46 474.03,257.30 474.14,255.14 474.24,254.67 474.35,258.28 474.46,256.83 474.56,256.88 474.67,258.85 474.77,256.60 474.88,251.01 474.99,251.72 475.09,257.69 475.20,258.09 475.30,257.54 475.41,256.49 475.51,256.70 475.62,254.79 475.72,256.72 475.83,260.82 475.93,261.18 476.03,259.60 476.14,260.47 476.24,260.55 476.35,255.30 476.45,255.00 476.55,260.67 476.66,259.43 476.76,260.04 476.86,258.85 476.97,259.25 477.07,255.62 477.17,256.11 477.27,258.71 477.38,260.04 477.48,259.23 477.58,258.77 477.68,258.20 477.79,256.19 477.89,254.87 477.99,258.26 478.09,259.21 478.19,260.77 478.30,259.04 478.40,258.33 478.50,258.42 478.60,256.08 478.70,257.05 478.80,260.72 478.90,259.54 479.00,259.92 479.10,260.77 479.20,260.08 479.30,252.72 479.40,254.99 479.50,259.01 479.60,258.90 479.70,259.30 479.80,257.62 479.90,258.15 480.00,257.82 480.10,258.34 480.20,258.44 480.30,258.79 480.40,259.78 480.50,260.17 480.60,259.54 480.69,256.20 480.79,252.81 480.89,257.84 480.99,260.09 481.09,259.54 481.19,259.35 481.28,261.29 481.38,258.54 481.48,256.54 481.58,260.18 481.67,263.31 481.77,261.74 481.87,262.77 481.97,261.27 482.06,259.17 482.16,253.02 482.26,256.19 482.35,263.33 482.45,260.72 482.55,263.23 482.64,260.85 482.74,261.06 482.84,258.45 482.93,258.75 483.03,262.02 483.12,260.46 483.22,262.27 483.32,261.02 483.41,263.97 483.51,255.53 483.60,255.14 483.70,260.76 483.79,262.28 483.89,261.55 483.98,263.60 484.08,262.44 484.17,260.77 484.27,258.44 484.36,261.77 484.45,264.47 484.55,262.43 484.64,261.69 484.74,263.67 484.83,260.26 484.92,258.44 485.02,261.11 485.11,260.74 485.21,262.28 485.30,260.87 485.39,262.83 485.49,262.19 485.58,259.17 485.67,260.62 485.76,262.48 485.86,263.44 485.95,264.30 486.04,261.96 486.13,263.13 486.23,254.00 486.32,255.33 486.41,261.24 486.50,265.07 486.60,263.23 486.69,263.39 486.78,262.39 486.87,260.39 486.96,257.06 487.05,262.70 487.15,265.17 487.24,262.84 487.33,263.20 487.42,263.71 487.51,257.03 487.60,255.12 487.69,262.64 487.78,264.23 487.87,264.39 487.96,263.74 488.05,264.33 488.14,262.17 488.23,261.07 488.32,263.13 488.41,264.50 488.50,262.52 488.59,265.37 488.68,265.40 488.77,261.58 488.86,253.83 488.95,257.67 489.04,265.67 489.13,263.97 489.22,264.52 489.31,265.13 489.40,265.67 489.49,261.86 489.58,262.03 489.66,263.71 489.75,265.77 489.84,265.26 489.93,264.22 490.02,262.93 490.11,261.13 490.19,262.11 490.28,264.29 490.37,266.20 490.46,265.72 490.55,265.66 490.63,265.95 490.72,263.46 490.81,261.09 490.90,265.93 490.98,269.82 491.07,266.63 491.16,267.29 491.24,268.65 491.33,262.80 491.42,256.44 491.51,260.73 491.59,266.31 491.68,266.76 491.77,267.10 491.85,265.89 491.94,265.87 492.02,261.35 492.11,263.78 492.20,265.73 492.28,266.54 492.37,267.06 492.45,267.34 492.54,264.92 492.63,262.71 492.71,262.10 492.80,267.77 492.88,268.83 492.97,267.67 493.05,268.99 493.14,269.12 493.22,266.03 493.31,266.40 493.39,269.47 493.48,270.28 493.56,268.98 493.65,270.31 493.73,269.42 493.82,263.93 493.90,261.33 493.98,268.87 494.07,269.71 494.15,269.78 494.24,270.92 494.32,271.61 494.40,270.47 494.49,269.68 494.57,271.95 494.65,272.78 494.74,272.32 494.82,271.41 494.90,271.49 494.99,271.28 495.07,270.07 495.15,272.33 495.24,276.68 495.32,276.60 495.40,277.31 495.49,276.93 495.57,276.85 495.65,275.72 495.73,275.30 495.82,276.97"/></g><defs><clipPath id="clip"><rect x="40.7" y="1.7" width="476.90000000000003" height="313.7"/></clipPath></defs><rect x="40.7" y="1.7" width="476.90" height="313.70" fill="none" stroke="#666" stroke-width="1.0"/><rect x="443.9" y="5.0" width="69.3" height="55.1" rx="2" ry="2" fill="#fff" fill-opacity="0.85" stroke="#d5d5d5" stroke-width="0.8"/><line x1="446.9" y1="12.50" x2="464.6" y2="12.50" stroke="#1f77b4" stroke-width="1.05"/><line x1="446.9" y1="25.40" x2="464.6" y2="25.40" stroke="#ff7f0e" stroke-width="1.05"/><line x1="446.9" y1="38.30" x2="464.6" y2="38.30" stroke="#2ca02c" stroke-width="1.05"/><line x1="446.9" y1="51.20" x2="464.6" y2="51.20" stroke="#d62728" stroke-width="1.05"/></g><g class="txt"><text x="26.0" y="17.03" textLength="10.9" lengthAdjust="spacingAndGlyphs" class="tk">20</text><text x="31.6" y="84.45" textLength="5.4" lengthAdjust="spacingAndGlyphs" class="tk">0</text><text x="19.6" y="151.87" textLength="17.4" lengthAdjust="spacingAndGlyphs" class="tk">−20</text><text x="19.9" y="219.29" textLength="17.0" lengthAdjust="spacingAndGlyphs" class="tk">−40</text><text x="19.3" y="286.71" textLength="17.5" lengthAdjust="spacingAndGlyphs" class="tk">−60</text><text x="113.60" y="325.9" textLength="8.6" lengthAdjust="spacingAndGlyphs" class="tk">10</text><text x="124.10" y="322.6" class="sup">2</text><text x="307.90" y="325.9" textLength="8.6" lengthAdjust="spacingAndGlyphs" class="tk">10</text><text x="318.40" y="322.6" class="sup">3</text><text x="502.20" y="325.9" textLength="8.6" lengthAdjust="spacingAndGlyphs" class="tk">10</text><text x="512.70" y="322.6" class="sup">4</text><text x="235.0" y="338.9" textLength="87.8" lengthAdjust="spacingAndGlyphs" class="lab">Frequency (Hz)</text><text transform="translate(12.4,237.3) rotate(-90)" class="lab" textLength="57.6" lengthAdjust="spacingAndGlyphs">Magnitude</text><text transform="translate(12.4,175.6) rotate(-90)" class="lab" textLength="22.0" lengthAdjust="spacingAndGlyphs">(dB</text><text transform="translate(12.4,149.7) rotate(-90)" class="lab" textLength="22.9" lengthAdjust="spacingAndGlyphs">re 1</text><text transform="translate(12.4,122.0) rotate(-90)" class="lab" textLength="34.3" lengthAdjust="spacingAndGlyphs" font-style="italic">pW/m</text><text transform="translate(6.6,86.8) rotate(-90)" class="sup2">2</text><text transform="translate(12.4,82.1) rotate(-90)" class="lab">)</text><text x="470.9" y="15.80" textLength="35.4" lengthAdjust="spacingAndGlyphs" class="lg">Ambient</text><text x="470.9" y="28.70" textLength="38.6" lengthAdjust="spacingAndGlyphs" class="lg">27.8 SNR</text><text x="470.9" y="41.60" textLength="38.6" lengthAdjust="spacingAndGlyphs" class="lg">13.8 SNR</text><text x="470.9" y="54.50" textLength="33.0" lengthAdjust="spacingAndGlyphs" class="lg">9.7 SNR</text></g></svg>
</body></html>
